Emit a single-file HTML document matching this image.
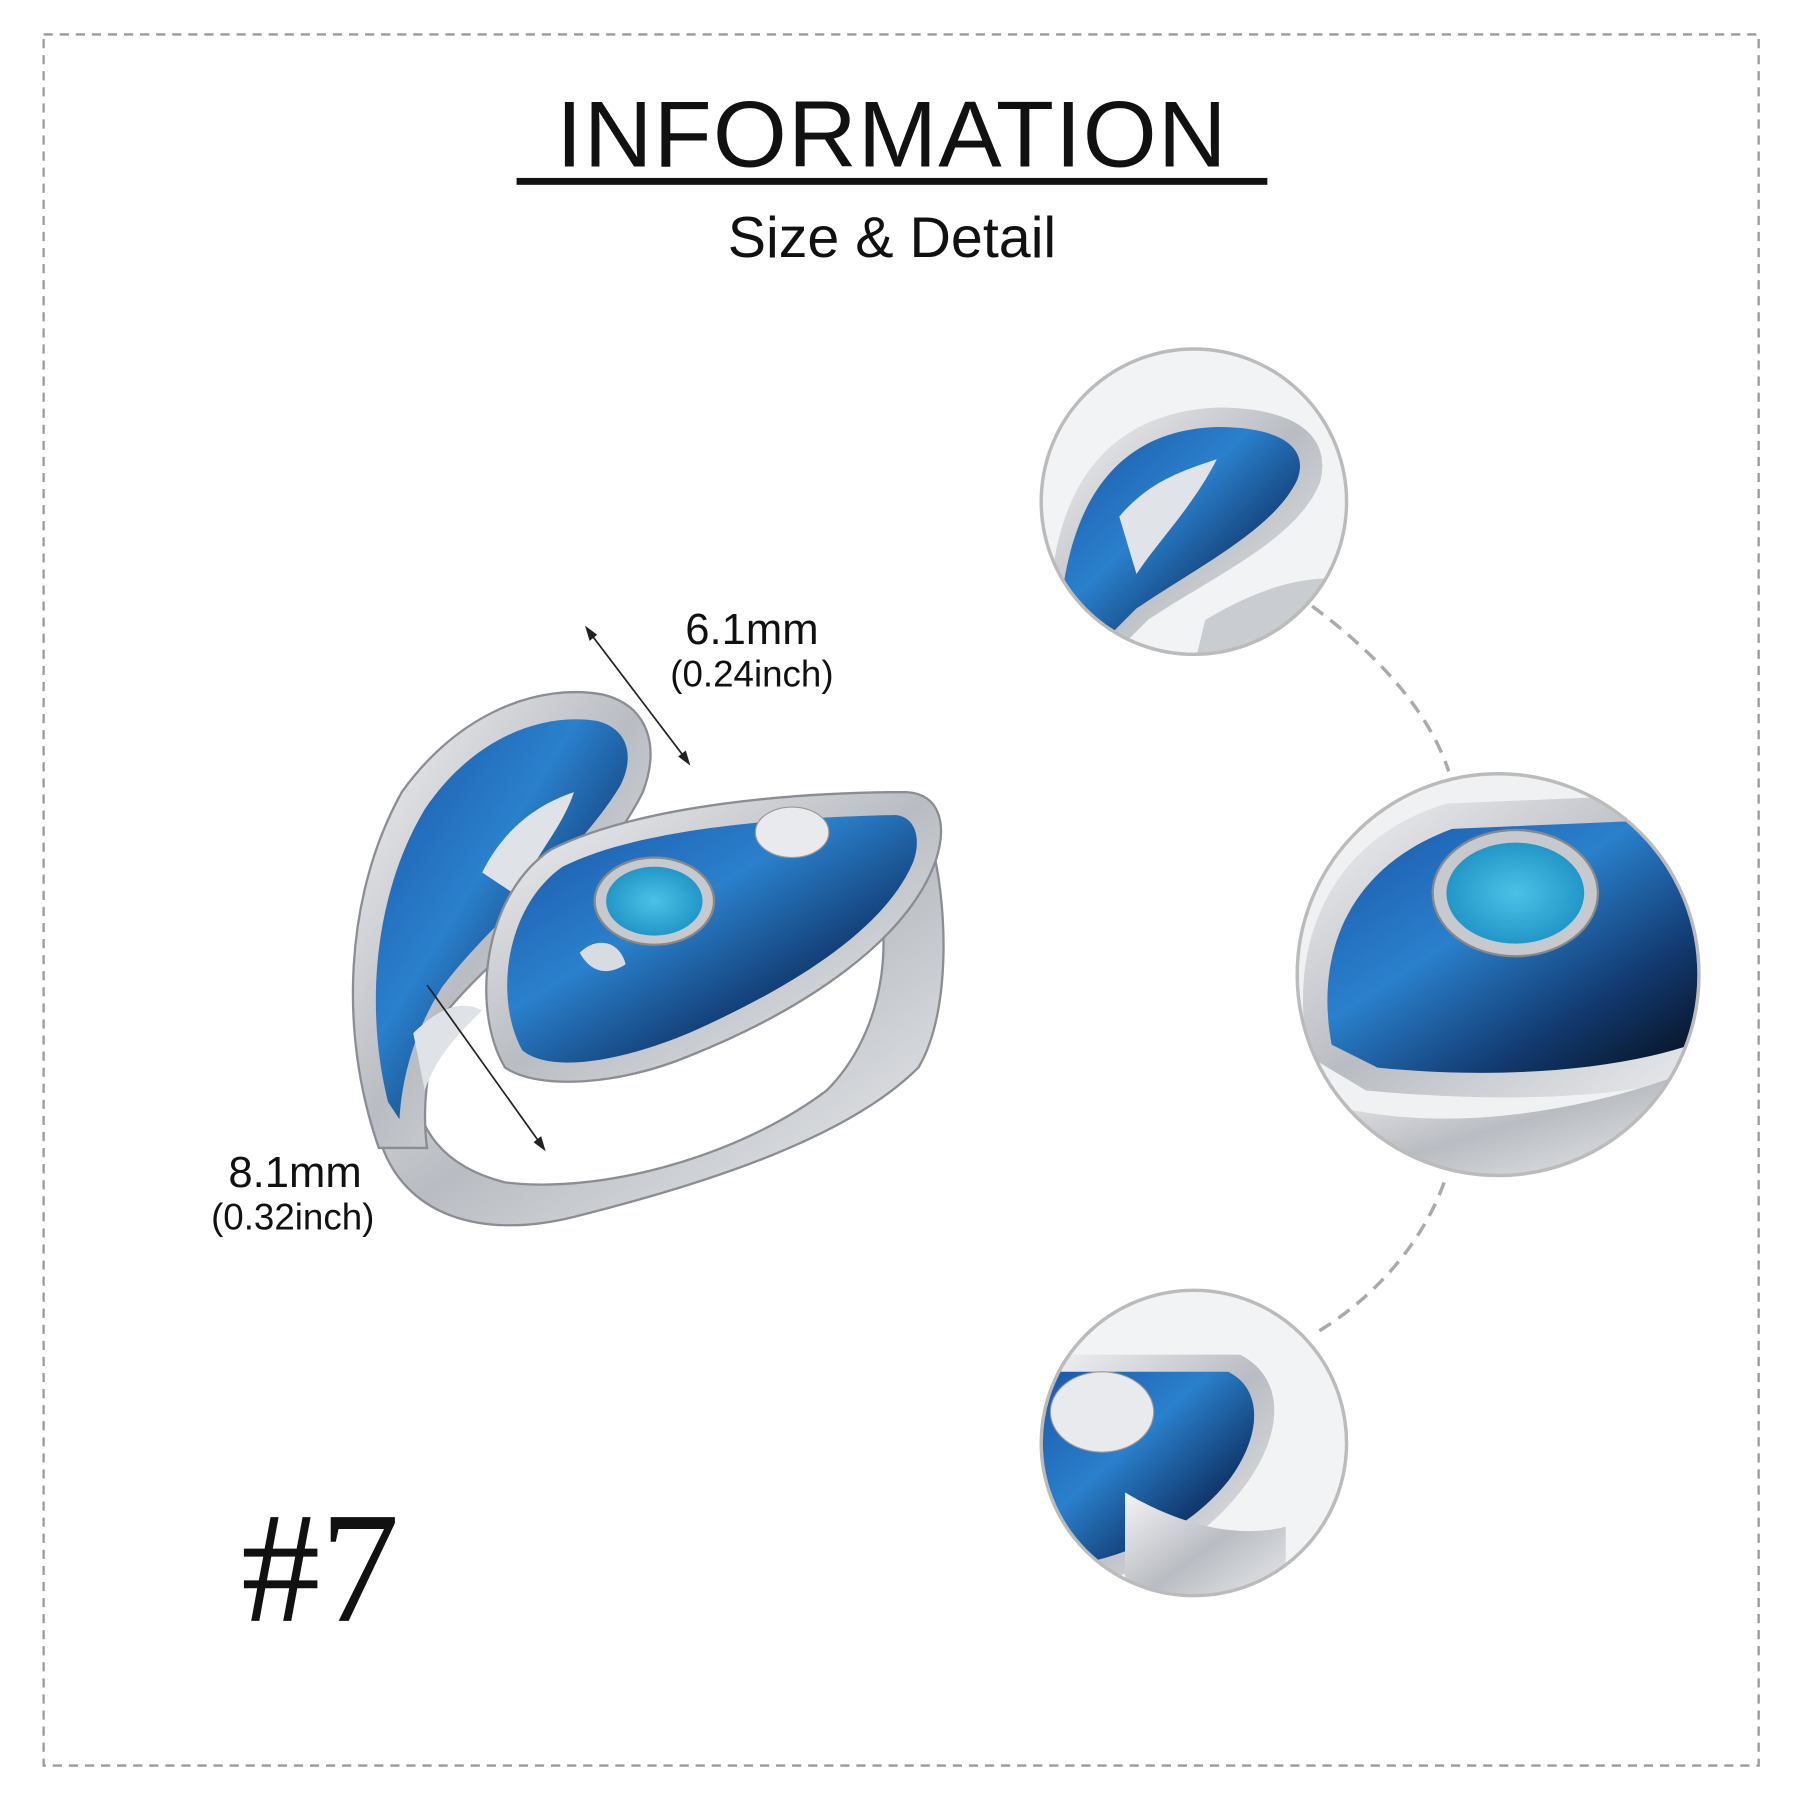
<!DOCTYPE html>
<html><head><meta charset="utf-8"><style>
html,body{margin:0;padding:0;background:#fff}
svg{display:block}
</style></head><body>
<svg width="1800" height="1800" viewBox="0 0 1568 1568" xmlns="http://www.w3.org/2000/svg">
<defs>
<linearGradient id="sil" x1="0" y1="0" x2="1" y2="1">
<stop offset="0" stop-color="#f4f4f6"/><stop offset="0.5" stop-color="#b9bcc2"/><stop offset="1" stop-color="#eceef0"/>
</linearGradient>
<linearGradient id="blu" x1="0" y1="0" x2="1" y2="1">
<stop offset="0" stop-color="#1a55a8"/><stop offset="0.4" stop-color="#2a80cc"/><stop offset="0.7" stop-color="#123a70"/><stop offset="1" stop-color="#05080f"/>
</linearGradient>
<radialGradient id="tq" cx="0.5" cy="0.5" r="0.6"><stop offset="0" stop-color="#4cc1e6"/><stop offset="1" stop-color="#1a8fc2"/></radialGradient>
<clipPath id="c1"><circle cx="1040" cy="437" r="133"/></clipPath>
<clipPath id="c2"><circle cx="1305" cy="849" r="175"/></clipPath>
<clipPath id="c3"><circle cx="1040" cy="1257" r="133"/></clipPath>
</defs>
<rect x="38" y="30" width="1494" height="1508" fill="none" stroke="#9a9a9a" stroke-width="2" stroke-dasharray="8,6"/>
<text x="777" y="145" text-anchor="middle" font-family="Liberation Sans, sans-serif" font-size="82" fill="#111" letter-spacing="1" textLength="585" lengthAdjust="spacingAndGlyphs">INFORMATION</text>
<rect x="450" y="155" width="654" height="6" fill="#111"/>
<text x="777" y="224" text-anchor="middle" font-family="Liberation Sans, sans-serif" font-size="50" fill="#111">Size &amp; Detail</text>

<!-- ring shank -->
<path d="M330 990 C350 1060 420 1080 500 1060 C620 1030 740 990 800 930 C830 880 825 780 810 730 L760 760 C780 820 770 900 720 950 C640 1010 520 1040 440 1030 C400 1020 380 1000 370 980 Z" fill="url(#sil)" stroke="#8a8d93" stroke-width="2"/>
<!-- left arm -->
<path d="M330 1000 C295 900 300 780 350 690 C400 620 470 595 525 605 C565 615 575 650 560 690 C520 770 440 820 390 880 C370 920 368 970 372 1000 Z" fill="url(#sil)" stroke="#8a8d93" stroke-width="2"/>
<path d="M338 960 C318 880 325 780 370 705 C410 645 470 620 520 628 C548 635 553 660 540 685 C500 750 430 800 385 860 C360 900 350 940 348 975 Z" fill="url(#blu)"/>
<path d="M420 760 C440 720 470 700 500 690 C490 720 470 740 450 780 Z M360 900 C380 880 400 870 420 880 C400 900 380 920 370 950 Z" fill="#dfe2e6"/>
<!-- right head -->
<path d="M440 930 C410 880 420 780 480 740 C560 700 700 690 790 690 C820 692 825 720 815 750 C790 820 700 880 600 920 C540 945 470 950 440 930 Z" fill="url(#sil)" stroke="#8a8d93" stroke-width="2"/>
<path d="M455 915 C430 870 440 790 490 755 C560 720 690 712 780 710 C800 712 802 735 795 752 C770 810 690 860 600 900 C540 925 480 935 455 915 Z" fill="url(#blu)"/>
<ellipse cx="570" cy="785" rx="52" ry="38" fill="#c6c9ce" stroke="#888" stroke-width="2"/>
<ellipse cx="570" cy="785" rx="42" ry="30" fill="url(#tq)"/>
<ellipse cx="690" cy="725" rx="32" ry="22" fill="#e8eaed" stroke="#999"/>
<path d="M505 830 C520 815 540 820 545 840 C530 850 515 848 505 830 Z" fill="#d8dbe0"/>
<!-- dimension lines -->
<g stroke="#222" stroke-width="1.5" fill="#222">
<line x1="513" y1="550" x2="598" y2="662"/>
<path d="M511 547 l3 10 l5 -4 z"/><path d="M600 665 l-3 -10 l-5 4 z"/>
<line x1="372" y1="858" x2="472" y2="998"/>
<path d="M474 1001 l-3 -10 l-5 4 z"/>
</g>
<g font-family="Liberation Sans, sans-serif" fill="#111" text-anchor="middle">
<text x="655" y="561" font-size="38">6.1mm</text>
<text x="655" y="598" font-size="32">(0.24inch)</text>
<text x="257" y="1034" font-size="38">8.1mm</text>
<text x="255" y="1071" font-size="32">(0.32inch)</text>
</g>
<text x="210" y="1412" font-family="Liberation Serif, serif" font-size="138" fill="#111">#7</text>

<!-- dashed connectors -->
<path d="M1143 528 C1200 570 1245 620 1262 672" fill="none" stroke="#aaa" stroke-width="3" stroke-dasharray="12,8"/>
<path d="M1258 1030 C1240 1080 1200 1130 1143 1163" fill="none" stroke="#aaa" stroke-width="3" stroke-dasharray="12,8"/>

<!-- circle 1 -->
<circle cx="1040" cy="437" r="133" fill="#fff"/>
<g clip-path="url(#c1)">
<rect x="900" y="300" width="300" height="280" fill="#f2f3f5"/>
<path d="M915 520 C920 430 960 360 1060 355 C1130 355 1160 380 1150 420 C1130 470 1060 500 1000 540 L960 580 L910 580 Z" fill="url(#sil)"/>
<path d="M925 520 C935 440 970 375 1060 372 C1120 372 1140 392 1130 418 C1110 460 1050 490 990 530 L950 570 L925 570 Z" fill="url(#blu)"/>
<path d="M975 450 C1000 420 1030 410 1060 400 C1040 440 1010 470 990 500 Z" fill="#e0e3e7"/>
<path d="M1050 540 C1100 510 1140 500 1180 505 L1180 580 L1040 580 Z" fill="#c9ccd1"/>
</g>
<circle cx="1040" cy="437" r="133" fill="none" stroke="#bbb" stroke-width="3"/>

<!-- circle 2 -->
<circle cx="1305" cy="849" r="175" fill="#fff"/>
<g clip-path="url(#c2)">
<rect x="1120" y="670" width="380" height="360" fill="#f0f1f3"/>
<path d="M1140 920 C1120 820 1160 730 1260 700 L1500 690 L1500 930 C1420 960 1300 960 1190 950 Z" fill="url(#sil)"/>
<path d="M1160 910 C1145 830 1175 755 1265 722 L1500 712 L1500 900 C1420 935 1300 940 1200 930 Z" fill="url(#blu)"/>
<ellipse cx="1320" cy="778" rx="72" ry="55" fill="#c6c9ce" stroke="#888" stroke-width="2"/>
<ellipse cx="1320" cy="778" rx="60" ry="44" fill="url(#tq)"/>
<path d="M1150 960 C1250 990 1380 970 1480 930 L1480 1030 L1150 1030 Z" fill="url(#sil)"/>
</g>
<circle cx="1305" cy="849" r="175" fill="none" stroke="#bbb" stroke-width="3"/>

<!-- circle 3 -->
<circle cx="1040" cy="1257" r="133" fill="#fff"/>
<g clip-path="url(#c3)">
<rect x="900" y="1120" width="280" height="280" fill="#f2f3f5"/>
<path d="M900 1180 L1080 1180 C1120 1200 1120 1250 1080 1300 C1040 1350 980 1380 900 1390 Z" fill="url(#sil)"/>
<path d="M900 1195 L1070 1195 C1100 1210 1100 1250 1070 1290 C1030 1340 970 1360 900 1370 Z" fill="url(#blu)"/>
<ellipse cx="960" cy="1230" rx="45" ry="35" fill="#e8eaed" stroke="#999"/>
<path d="M980 1300 C1030 1330 1080 1340 1120 1330 L1120 1400 L980 1400 Z" fill="url(#sil)"/>
</g>
<circle cx="1040" cy="1257" r="133" fill="none" stroke="#bbb" stroke-width="3"/>
</svg>
</body></html>
